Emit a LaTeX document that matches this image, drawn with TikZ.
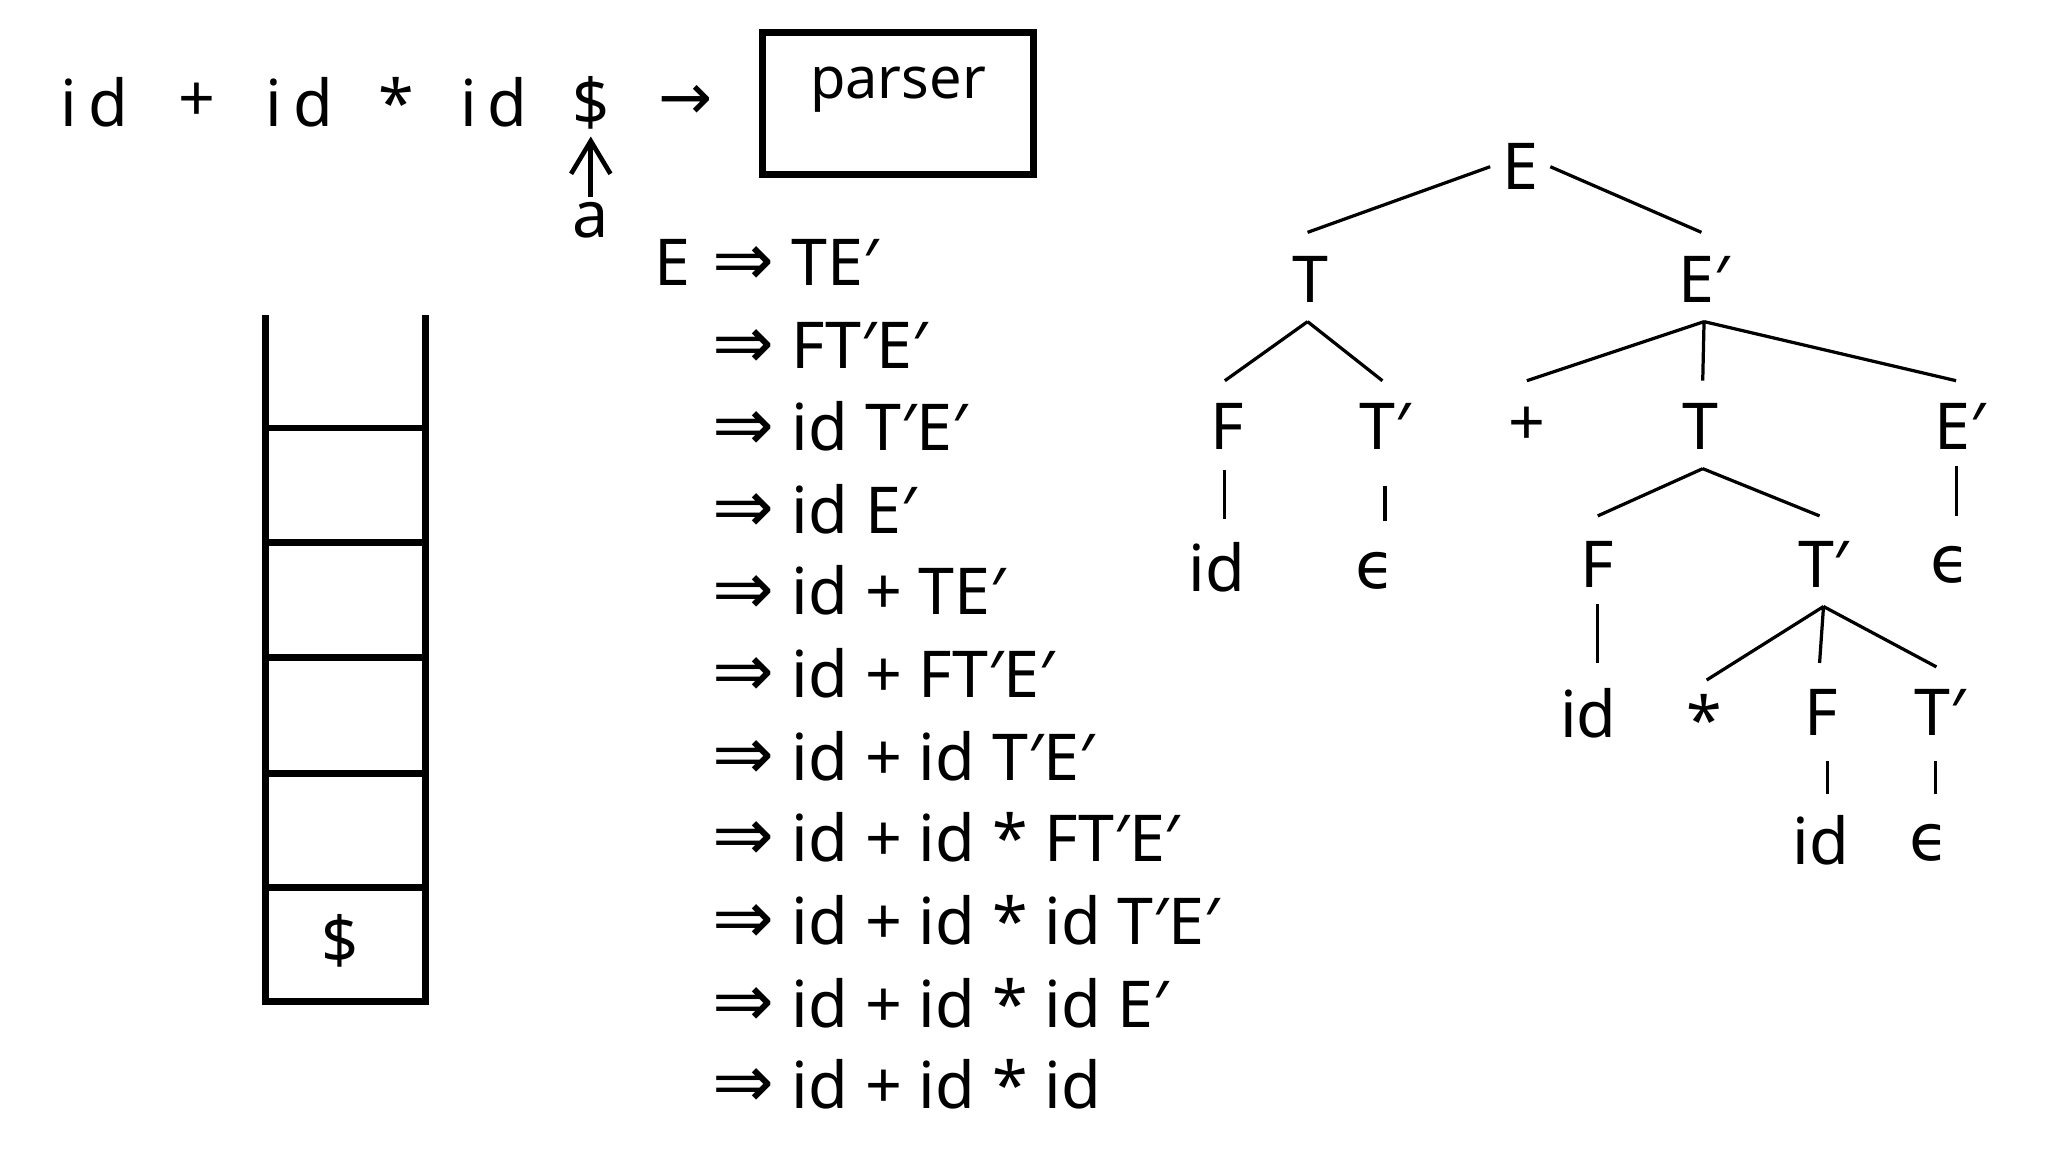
\documentclass[tikz,border=0pt]{standalone}
\usepackage{fontspec}
\setmainfont{Noto Sans}
\newfontfamily\symf{DejaVu Sans}
\usetikzlibrary{arrows.meta}
\begin{document}
\begin{tikzpicture}[x=0.01cm,y=-0.01cm,
  t/.style={font=\fontsize{14}{16}\selectfont,inner sep=1pt},
  ln/.style={line width=0.7pt},
  bx/.style={line width=1.5pt}]
\useasboundingbox (0,0) rectangle (1560,877);
% input
\foreach \x/\s/\n in {72/i\,d/i1,150/+/p1,228/i\,d/i2,302/*/m1,376/i\,d/i3,450/\$/dl,522/{\symf →}/ar}
  \node[t] (\n) at (\x,78) {\s};
\node[t] (a) at (450,168) {a};
\draw[line width=1pt,-{Straight Barb[length=2.5mm,width=3mm]}] (a.north) -- (450,104);
\node[draw,bx,minimum width=2.06cm,minimum height=1.08cm] (parser) at (684,79) {};
\node[font=\fontsize{12.5}{14}\selectfont] at (684,68) {parser};
% stack
\draw[bx] (202,240) -- (202,763) -- (324,763) -- (324,240);
\foreach \y in {326,413,501,589,676} \draw[bx] (202,\y) -- (324,\y);
\node[t] (sd) at (259,717) {\$};
% derivation
\node[t] (d0) at (512,200) {E};
\foreach \y/\s [count=\i] in {200/TE′,263/FT′E′,325/id T′E′,388/id E′,450/id\ + TE′,513/id\ + FT′E′,576/id\ + id T′E′,638/id\ + id\ * FT′E′,701/id\ + id\ * id T′E′,764/id\ + id\ * id E′,826/id\ + id\ * id}{
  \node[t,font=\fontsize{16}{16}\selectfont\symf] (r\i) at (566,\y+3) {⇒};
  \node[t,anchor=west] (s\i) at (599,\y) {\s};}
% tree
\node[t] (E) at (1158,127) {E};
\node[t] (T1) at (998,213) {T};
\node[t] (E1) at (1298,213) {E′};
\node[t] (F1) at (935,325) {F};
\node[t] (T2) at (1055,325) {T′};
\node[t] (pl) at (1163,325) {+};
\node[t] (T3) at (1295,325) {T};
\node[t] (E2) at (1493,325) {E′};
\node[t] (id1) at (927,432) {id};
\node[t] (ep1) at (1048,435) {\symf ϵ};
\node[t] (F2) at (1217,430) {F};
\node[t] (T4) at (1389,430) {T′};
\node[t] (ep2) at (1486,430) {\symf ϵ};
\node[t] (id2) at (1210,543) {id};
\node[t] (st) at (1298,548) {*};
\node[t] (F3) at (1387,543) {F};
\node[t] (T5) at (1478,543) {T′};
\node[t] (id3) at (1387,640) {id};
\node[t] (ep3) at (1470,642) {\symf ϵ};
\coordinate (tl) at (1132,123); \coordinate (tr) at (1177,123);
\draw[ln] (E.west) ++(-0.05cm,0) -- (996,177);
\draw[ln] (E.east) ++(0.05cm,0) -- (1296,177);
\draw[ln] (996,245) -- (933,290) (996,245) -- (1053,290);
\draw[ln] (1298,245) -- (1163,290) (1298,245) -- (1297,290) (1298,245) -- (1490,290);
\draw[ln] (933,358) -- (933,395) (1055,370) -- (1055,397) (1490,355) -- (1490,393);
\draw[ln] (1297,357) -- (1217,393) (1297,357) -- (1386,393);
\draw[ln] (1217,460) -- (1217,505);
\draw[ln] (1389,462) -- (1300,518) (1389,462) -- (1386,505) (1389,462) -- (1475,508);
\draw[ln] (1392,580) -- (1392,605) (1474,580) -- (1474,605);
\end{tikzpicture}
\end{document}
